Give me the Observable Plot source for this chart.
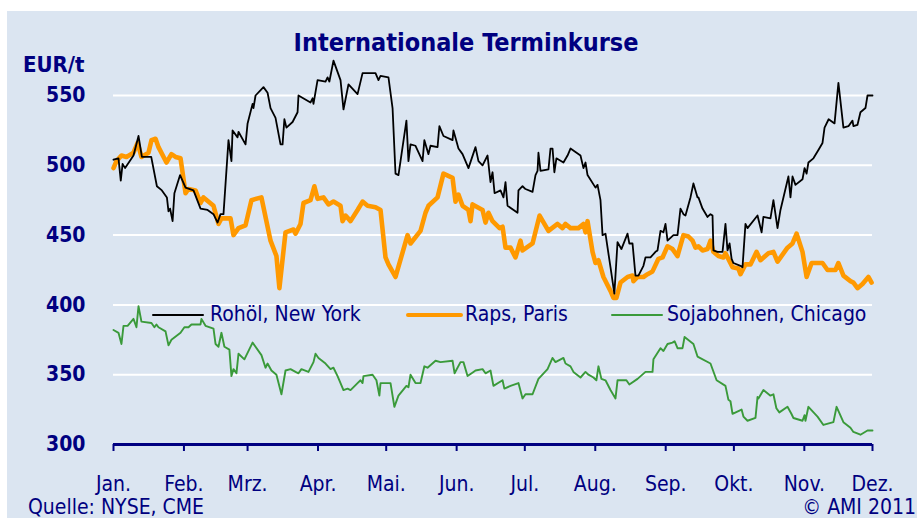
<!DOCTYPE html>
<html><head><meta charset="utf-8">
<script src="https://cdn.jsdelivr.net/npm/d3@7"></script>
<script src="https://cdn.jsdelivr.net/npm/@observablehq/plot@0.6"></script>
<style>
body{margin:0;background:#fff;}
#wrap{position:relative;width:917px;height:518px;overflow:hidden;font-family:"DejaVu Sans Condensed","DejaVu Sans",sans-serif;color:#000080;}
#panel{position:absolute;left:7px;top:11px;width:910px;height:507px;background:#dbe5f1;}
#panel svg{position:absolute;left:0;top:0;}
.t{position:absolute;white-space:nowrap;line-height:1;}
.sw{position:absolute;}
</style>
</head><body>
<div id="wrap">
  <div id="panel"></div>
  <div class="t" id="title" style="left:466px;top:30px;font-size:25px;font-weight:bold;transform:translateX(-50%);"></div>
  <div class="t" id="unit" style="left:23px;top:54px;font-size:22px;font-weight:bold;"></div>
  <div class="t" id="src" style="left:28px;top:497px;font-size:21px;"></div>
  <div class="t" id="copy" style="right:1px;top:497px;font-size:21px;"></div>
  <div id="legend"></div>
</div>
<script>
// ---- data ----
const titleText = "Internationale Terminkurse";
const unitLabel = "EUR/t";
const sourceText = "Quelle: NYSE, CME";
const copyText = "© AMI 2011";
const seriesNames = ["Rohöl, New York", "Raps, Paris", "Sojabohnen, Chicago"];
const seriesColors = ["#000000", "#ff9900", "#3a9a3a"];
const monthLabels = ["Jan.","Feb.","Mrz.","Apr.","Mai.","Jun.","Jul.","Aug.","Sep.","Okt.","Nov.","Dez."];
const yTicks = [300, 350, 400, 450, 500, 550];
const year = 2011;

// [day since 1 Jan, EUR/t]
const rohoel = [[0,504],[2.2,505],[3.2,489],[4,501],[5.1,498],[8.8,507],[11,521],[12.5,506],[16.6,506],[19.1,485],[21.3,482],[23.5,477],[24.2,467],[24.9,469],[26,460],[26.8,480],[29.3,493],[31.7,484],[35.2,482],[38.3,469],[41.4,468],[44,465],[45.8,459],[47.1,465],[48.4,465],[50.6,518],[51.9,503],[52.4,525],[54.6,520],[55,524],[58.1,515],[59,530],[61.2,544],[61.6,541],[62.5,550],[66,556],[67.8,552],[69.1,541],[71.3,534],[73.5,515],[74.4,515],[75.2,533],[76.1,527],[78.8,531],[81,538],[81.4,550],[86.7,545],[87.6,548],[88,544],[89.8,561],[93.3,560],[94.2,563],[95,560],[96.8,575],[99.9,561],[101.2,540],[103.4,558],[107.4,551],[109.6,566],[115.3,566],[116.6,561],[117.5,564],[121,563],[122.8,541],[124.1,494],[125.4,493],[128.9,532],[129.8,503],[130.7,515],[132.9,514],[136,503],[136.8,518],[138.6,508],[139.5,514],[142.6,513],[143.4,528],[145.2,521],[149.2,518],[149.6,525],[151.8,512],[153.6,508],[156.2,498],[159.3,513],[160.6,503],[162.4,500],[164.6,507],[165.9,488],[166.8,495],[167.7,480],[170.3,482],[171.6,477],[172.5,488],[173.4,471],[177.8,466],[178.2,482],[180,485],[181.3,483],[184.4,481],[185.7,493],[186.6,496],[187,509],[187.9,496],[191.4,497],[192.3,512],[193.2,512],[194,495],[194.9,505],[198,502],[199.8,507],[201.1,512],[205.5,507],[206.8,498],[207.7,502],[208.6,493],[212.1,484],[213,486],[214.3,475],[215.2,450],[216.5,451],[218.7,427],[220.4,408],[221.8,445],[223.5,440],[226.2,451],[227,444],[228.4,444],[229.7,421],[231,421],[233.2,428],[234.1,434],[236.3,434],[238.5,438],[239.4,439],[240.7,453],[242,452],[242.9,458],[243.8,446],[246.4,450],[248.2,450],[249.5,469],[250.8,465],[251.7,464],[253.9,477],[255.2,487],[257,477],[257.4,477],[259.2,469],[261.4,463],[262.7,465],[263.6,464],[264,439],[265.8,438],[268,438],[269.3,458],[270.2,439],[271.1,444],[272,433],[272.8,430],[275.9,428],[276.8,427],[278.1,458],[279,455],[283.4,464],[285.2,452],[286,463],[289.1,462],[290.4,475],[292.2,455],[293.5,468],[297,492],[297.9,477],[298.8,492],[300.1,486],[303.2,490],[304.1,498],[305,494],[305.8,502],[308,505],[310.2,511],[312,516],[312.9,527],[314.7,533],[317.3,530],[319,559],[321.2,527],[323.4,528],[325.2,532],[325.6,528],[327.4,529],[328.7,538],[330.9,541],[331.8,550],[334,550]];

const raps = [[0,498],[1.3,503],[3.5,507],[5.7,506],[8.8,509],[10.6,516],[12.3,506],[15.4,509],[16.7,518],[18.5,519],[19.8,513],[23.3,502],[25.5,508],[27.3,506],[29.5,505],[31.7,480],[33,483],[36.1,482],[38.3,473],[39.6,477],[44,471],[46.2,458],[47.5,462],[51.5,462],[52.8,450],[55,455],[58.1,457],[60.7,475],[65.1,477],[69.1,446],[71.7,435],[73,412],[75.7,452],[79.2,454],[80.1,451],[82.3,458],[83.6,473],[86.7,475],[88.4,485],[89.8,476],[92.4,477],[94.6,472],[96.8,474],[99.9,471],[100.8,460],[102.1,464],[104.3,460],[107.4,468],[109.6,474],[111.8,471],[115.3,470],[117.5,468],[119.7,434],[121,429],[124.1,420],[129.4,450],[130.7,444],[135.1,453],[137.3,466],[138.6,471],[142.6,477],[145.2,494],[149.2,491],[150.5,474],[151.8,479],[153.6,471],[156.2,468],[157.1,460],[158,472],[162.4,468],[163.7,459],[165,466],[166.8,460],[169.9,455],[171.2,456],[172.5,441],[174.7,441],[176.9,434],[179.1,446],[180,439],[184.4,444],[187.5,464],[191.4,453],[195.4,458],[197.6,455],[198.9,458],[201.1,455],[204.6,455],[206.8,458],[207.7,452],[208.6,460],[210.8,438],[212.1,430],[213.4,432],[215.6,420],[218.7,410],[220,405],[221.3,405],[223.1,416],[226.2,420],[228.4,421],[228.8,417],[230.6,420],[233.2,420],[235,422],[237.2,424],[239.8,433],[241.6,434],[243.8,442],[246,440],[248.2,435],[250.8,450],[253,449],[254.8,446],[256.1,441],[257.4,442],[259.2,439],[261.4,440],[262.7,446],[264,438],[266.2,435],[268.4,434],[269.3,437],[272.4,427],[275,426],[275.9,422],[278.1,429],[280.3,429],[283,438],[284.7,432],[288.2,437],[290.4,438],[292.2,431],[296.6,441],[298.8,444],[300.6,451],[303.2,438],[305,420],[307.2,430],[312,430],[314.2,425],[317.7,425],[319,430],[321.2,421],[324.3,417],[325.6,416],[327.4,412],[329.6,415],[332.2,420],[333.6,416]];

const soja = [[0,382],[2.2,380],[3.5,372],[4.4,385],[6.2,385],[8.8,390],[10.1,384],[11,399],[12.3,388],[16.7,387],[18,384],[18.9,386],[19.8,384],[22.9,381],[24.2,371],[25.5,375],[29.5,380],[31.2,384],[33,384],[34.3,386],[38.3,386],[38.7,390],[40.5,385],[44,383],[44.9,372],[46.2,370],[47.5,380],[48.8,370],[51,368],[51.9,349],[52.8,354],[54.1,351],[55,365],[57.6,361],[61.2,373],[65.1,364],[66.9,355],[67.8,358],[69.5,353],[71.7,350],[73.9,336],[75.7,353],[77.9,354],[80.1,352],[81.4,351],[82.7,354],[85.8,352],[88,359],[88.9,365],[90.2,362],[93.3,358],[95.5,354],[96.8,355],[98.6,349],[101.2,339],[103,340],[104.3,339],[107.4,344],[108.7,346],[109.6,344],[110,349],[114,350],[115.7,346],[117,335],[117.5,344],[121.9,344],[123.6,327],[125.4,335],[128.9,342],[129.8,341],[130.7,350],[132.9,344],[135.1,344],[136.8,356],[138.2,355],[141.7,360],[143.9,359],[149.2,360],[150.1,351],[152.7,359],[154,359],[155.8,349],[158.4,352],[159.3,353],[162.4,354],[163.7,351],[165.9,353],[167.2,342],[171.2,346],[172,340],[174.7,342],[178.2,344],[180,333],[181.3,336],[184.4,336],[187,347],[191,354],[193.2,362],[194.5,359],[198,362],[198.9,358],[201.1,356],[202.4,352],[205.5,348],[207.7,352],[209,350],[211.2,348],[212.5,346],[213.4,356],[214.7,347],[216.5,346],[218.7,339],[220.9,333],[221.8,346],[225.7,346],[227,343],[230.6,347],[234.1,352],[237.2,352],[237.6,361],[240.7,369],[242,367],[243.8,372],[246,373],[246.9,374],[248.2,369],[250.4,369],[251.3,377],[255.2,372],[257,363],[262.7,358],[265.4,346],[269.3,342],[270.6,332],[271.5,331],[272.4,322],[276.4,325],[277.2,320],[279,317],[282.5,319],[283.4,334],[283.8,333],[286,339],[289.1,335],[290.4,336],[291.7,326],[293,323],[296.6,327],[298.3,322],[299.2,319],[303.2,317],[304.1,321],[304.5,317],[305.8,327],[309.8,320],[312.4,314],[316.8,316],[318.2,327],[321.2,316],[324.3,312],[325.6,309],[328.7,307],[331.8,310],[334,310]];

// ---- build ----
const t0 = Date.UTC(year, 0, 1);
const toRows = (arr, name) => arr.map(([d, v]) => ({date: new Date(t0 + d * 864e5), value: v, series: name}));
const monthTicks = monthLabels.map((_, i) => new Date(Date.UTC(year, i, 1)));
const navy = "#000080";

document.getElementById("title").textContent = titleText;
document.getElementById("unit").textContent = unitLabel;
document.getElementById("src").textContent = sourceText;
document.getElementById("copy").textContent = copyText;

const chart = Plot.plot({
  width: 910, height: 507,
  marginLeft: 106, marginRight: 45, marginTop: 84, marginBottom: 74,
  style: {background: "transparent", color: navy, fontFamily: '"DejaVu Sans Condensed","DejaVu Sans",sans-serif', fontSize: "21px", overflow: "visible"},
  x: {type: "utc", domain: [monthTicks[0], monthTicks[11]]},
  y: {domain: [300, 550]},
  marks: [
    Plot.gridY(yTicks.slice(1), {stroke: "#ffffff", strokeOpacity: 1, strokeWidth: 2}),
    Plot.line(toRows(soja, seriesNames[2]), {x: "date", y: "value", stroke: seriesColors[2], strokeWidth: 1.9}),
    Plot.line(toRows(raps, seriesNames[1]), {x: "date", y: "value", stroke: seriesColors[1], strokeWidth: 4.6, strokeLinejoin: "round"}),
    Plot.line(toRows(rohoel, seriesNames[0]), {x: "date", y: "value", stroke: seriesColors[0], strokeWidth: 1.8}),
    Plot.ruleY([yTicks[0]], {stroke: navy, strokeWidth: 3}),
    Plot.axisY({ticks: yTicks, tickSize: 0, tickPadding: 28, fontWeight: "bold", fontSize: 21, label: null}),
    Plot.axisX({ticks: monthTicks, tickFormat: d => monthLabels[d.getUTCMonth()], tickSize: 7, tickPadding: 25, strokeWidth: 2, fontSize: 21, label: null})
  ]
});
document.getElementById("panel").appendChild(chart);

// legend (HTML, drawn from the series arrays)
const legendLayout = [
  {sw: 152, w: 52, tx: 210, sw2: 2},
  {sw: 406, w: 57, tx: 465, sw2: 4.5},
  {sw: 611, w: 52, tx: 667, sw2: 2}
];
const leg = document.getElementById("legend");
seriesNames.forEach((name, i) => {
  const L = legendLayout[i];
  const s = document.createElement("div");
  s.className = "sw";
  s.style.cssText = `left:${L.sw}px;top:${315 - L.sw2 / 2}px;width:${L.w}px;height:${L.sw2}px;background:${seriesColors[i]};border-radius:${L.sw2/2}px;`;
  leg.appendChild(s);
  const t = document.createElement("div");
  t.className = "t";
  t.style.cssText = `left:${L.tx}px;top:304px;font-size:21px;`;
  t.textContent = name;
  leg.appendChild(t);
});
</script>
</body></html>
